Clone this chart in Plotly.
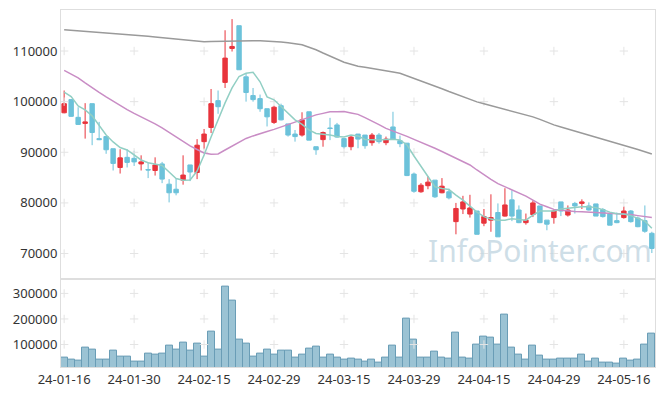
import plotly.graph_objects as go
from plotly.subplots import make_subplots

dates = ["24-01-16", "24-01-17", "24-01-18", "24-01-19", "24-01-22", "24-01-23", "24-01-24", "24-01-25",
         "24-01-26", "24-01-29", "24-01-30", "24-01-31", "24-02-01", "24-02-02", "24-02-05", "24-02-06",
         "24-02-07", "24-02-08", "24-02-13", "24-02-14", "24-02-15", "24-02-16", "24-02-19", "24-02-20",
         "24-02-21", "24-02-22", "24-02-23", "24-02-26", "24-02-27", "24-02-28", "24-02-29", "24-03-04",
         "24-03-05", "24-03-06", "24-03-07", "24-03-08", "24-03-11", "24-03-12", "24-03-13", "24-03-14",
         "24-03-15", "24-03-18", "24-03-19", "24-03-20", "24-03-21", "24-03-22", "24-03-25", "24-03-26",
         "24-03-27", "24-03-28", "24-03-29", "24-04-01", "24-04-02", "24-04-03", "24-04-04", "24-04-05",
         "24-04-08", "24-04-09", "24-04-11", "24-04-12", "24-04-15", "24-04-16", "24-04-17", "24-04-18",
         "24-04-19", "24-04-22", "24-04-23", "24-04-24", "24-04-25", "24-04-26", "24-04-29", "24-04-30",
         "24-05-02", "24-05-03", "24-05-07", "24-05-08", "24-05-09", "24-05-10", "24-05-13", "24-05-14",
         "24-05-16", "24-05-17", "24-05-20", "24-05-21", "24-05-22"]

opens = [97800, 100400, 96900, 95700, 99600, 92700, 93100, 90700, 87000, 89000,
         88800, 87700, 86600, 86400, 87700, 83700, 82700, 84500, 87500, 86000,
         92100, 94900, 100200, 103800, 110500, 115000, 104900, 101200, 100600, 98600,
         95900, 99200, 95600, 93600, 93400, 98000, 91100, 92500, 94800, 95400,
         92700, 91100, 93600, 93400, 91900, 93400, 91900, 95000, 92300, 91800,
         85700, 82200, 83400, 84500, 82000, 82200, 76300, 78800, 77800, 78400,
         76000, 76600, 78100, 77400, 80600, 78600, 76100, 77700, 79400, 76600,
         77100, 80200, 77600, 79900, 79900, 79400, 79800, 78700, 77800, 76500,
         77100, 78400, 77000, 76500, 74000]
highs = [102200, 100400, 98900, 99700, 99600, 96000, 93100, 90700, 90600, 90600,
         90300, 89400, 88000, 89000, 88100, 84700, 84800, 89400, 87500, 92600,
         94600, 102500, 102200, 114100, 116300, 115000, 105500, 102700, 101400, 98600,
         99200, 99600, 95600, 94400, 97900, 98000, 91100, 94100, 96800, 95800,
         92800, 93300, 93600, 93400, 93800, 93800, 93100, 98000, 93300, 91800,
         86000, 83900, 85300, 84500, 84900, 82800, 80000, 81400, 81600, 78400,
         78800, 81700, 79900, 82900, 82500, 79500, 77900, 80500, 79400, 76600,
         78700, 80200, 79500, 80200, 80700, 80100, 79800, 79000, 78100, 78100,
         79300, 78600, 77300, 79500, 74300]
lows = [97700, 97000, 95400, 92700, 91400, 92400, 89700, 86400, 85800, 87000,
        87300, 86400, 84900, 85400, 83900, 80100, 81500, 83600, 84300, 84700,
        90600, 93800, 97600, 102700, 109900, 106300, 100000, 100000, 98000, 95100,
        95600, 96300, 93100, 92100, 93100, 92400, 89500, 91100, 92400, 92900,
        90700, 90400, 90800, 90700, 91300, 91700, 91400, 92500, 91000, 85300,
        82000, 82000, 82700, 81000, 81900, 80700, 73800, 77800, 77100, 73800,
        75400, 74300, 73300, 77300, 76400, 76000, 75700, 77200, 76000, 74600,
        75900, 77400, 77300, 77900, 78800, 78500, 77400, 77100, 75600, 76000,
        76900, 76100, 75200, 74100, 70100]
closes = [99600, 97100, 95500, 96000, 93900, 92500, 90500, 87800, 88900, 88000,
          88100, 88100, 86500, 87500, 84700, 82000, 82000, 85500, 86100, 91400,
          93600, 99600, 99000, 108600, 110900, 106300, 101800, 100400, 98600, 97000,
          98900, 96400, 93400, 93100, 96400, 92400, 90500, 93900, 94700, 93000,
          91100, 93000, 92600, 91300, 93400, 92100, 92600, 92600, 91700, 85400,
          82300, 83500, 84100, 81200, 83300, 81000, 78900, 80200, 79000, 73800,
          77300, 77100, 73300, 79600, 77400, 76100, 76600, 80000, 76100, 75800,
          78400, 78400, 78600, 79400, 80200, 78600, 77400, 77300, 75600, 76100,
          78400, 76300, 75300, 74400, 71000]
volumes = [50200, 42400, 38400, 89400, 81600, 42400, 42400, 76500, 54100, 54100,
           34500, 34500, 65900, 62000, 65900, 97300, 81600, 109000, 77600, 105100,
           54100, 152200, 81600, 328600, 273700, 120800, 105100, 54100, 65900, 81600,
           62000, 76500, 76500, 50200, 62000, 85500, 93300, 50200, 62000, 50200,
           41000, 45000, 41000, 34500, 41000, 29400, 50200, 97300, 50200, 202000,
           119600, 50200, 50200, 73700, 50200, 45000, 147000, 50200, 45000, 100000,
           131400, 128600, 100000, 217600, 89400, 60800, 41000, 97300, 58000, 41000,
           41000, 45000, 45000, 45000, 60800, 34500, 45000, 29400, 29400, 25500,
           45000, 38400, 41000, 100000, 143100]
ma5 = [101900, 101000, 99170, 98380, 97190, 95210, 93430, 92040, 90950, 90460,
       89470, 88480, 87940, 87730, 87390, 86100, 84810, 84460, 84520, 86300,
       89470, 93030, 96400, 99760, 102730, 104970, 105600, 105800, 103920, 100950,
       100360, 98970, 97590, 96400, 95510, 94420, 93720, 93630, 93430, 93130,
       93030, 93430, 93230, 92540, 92440, 92440, 92540, 92580, 92440, 91450,
       89270, 87290, 85310, 83190, 82830, 82640, 81550, 80560, 79370, 78180,
       77290, 76800, 76600, 76600, 76890, 76800, 76600, 77590, 78380, 78380,
       78380, 78780, 78970, 79170, 79230, 79230, 79070, 78680, 78180, 77880,
       77790, 77490, 76990, 76400, 75010]
ma20 = [106160, 105430, 104710, 103720, 102730, 101840, 100950, 100060, 99170, 98430,
        97680, 97040, 96400, 95600, 94810, 93920, 93030, 92140, 91250, 90550,
        89860, 89610, 89670, 90450, 91250, 91990, 92730, 93230, 93720, 94120,
        94520, 95010, 95510, 96000, 96500, 96940, 97390, 97680, 97980, 98010,
        98040, 97760, 97490, 96840, 96200, 95460, 94710, 94240, 93760, 93150,
        92540, 91990, 91450, 90800, 90160, 89520, 88870, 88180, 87490, 86500,
        85510, 84670, 83820, 83230, 82640, 81990, 81350, 80560, 79770, 79240,
        78720, 78550, 78380, 78310, 78240, 78160, 78080, 78030, 77980, 77930,
        77880, 77690, 77490, 77310, 77130]
ma120 = [114220, 114120, 114020, 113920, 113820, 113720, 113620, 113520, 113430, 113330,
         113230, 113080, 112930, 112780, 112630, 112480, 112340, 112190, 112040, 111940,
         111840, 111890, 111940, 111990, 112040, 112040, 112040, 112040, 112040, 111990,
         111940, 111790, 111640, 111450, 111250, 110750, 110260, 109610, 108970, 108380,
         107780, 107390, 106990, 106790, 106590, 106350, 106100, 105850, 105600, 105110,
         104610, 104070, 103530, 103030, 102540, 101990, 101450, 100900, 100360, 99960,
         99570, 99220, 98870, 98530, 98180, 97830, 97490, 96990, 96500, 95950,
         95410, 95010, 94620, 94220, 93820, 93430, 93030, 92630, 92240, 91840,
         91450, 91000, 90560, 90110, 89670]

price_ticks = [70000, 80000, 90000, 100000, 110000]
volume_ticks = [100000, 200000, 300000]
x_tick_labels = dates[::10]
watermark = "InfoPointer.com"

fig = make_subplots(rows=2, cols=1, shared_xaxes=True, vertical_spacing=0,
                    row_heights=[0.7524, 0.2476])

grid_color = "#e4e4e4"
# cross-shaped grid marks at tick intersections
cx, cy = [], []
for d in x_tick_labels:
    for t in price_ticks:
        cx.append(d)
        cy.append(t)
fig.add_trace(go.Scatter(x=cx, y=cy, mode="markers", hoverinfo="skip",
                         marker=dict(symbol="cross-thin", size=6,
                                     line=dict(color=grid_color, width=1))),
              row=1, col=1)
vx, vy = [], []
for d in x_tick_labels:
    for t in volume_ticks:
        vx.append(d)
        vy.append(t)
fig.add_trace(go.Scatter(x=vx, y=vy, mode="markers", hoverinfo="skip",
                         marker=dict(symbol="cross-thin", size=6,
                                     line=dict(color=grid_color, width=1))),
              row=2, col=1)

fig.add_trace(go.Scatter(x=dates, y=ma120, mode="lines",
                         line=dict(color="#9a9a9a", width=1.5)), row=1, col=1)
fig.add_trace(go.Scatter(x=dates, y=ma20, mode="lines",
                         line=dict(color="#c98dc5", width=1.5)), row=1, col=1)
fig.add_trace(go.Scatter(x=dates, y=ma5, mode="lines",
                         line=dict(color="#92cfc4", width=1.5)), row=1, col=1)

fig.add_trace(go.Candlestick(x=dates, open=opens, high=highs, low=lows, close=closes,
                             increasing=dict(line=dict(color="#e8343c", width=1),
                                             fillcolor="#e8343c"),
                             decreasing=dict(line=dict(color="#6cc2da", width=1),
                                             fillcolor="#6cc2da"),
                             whiskerwidth=0),
              row=1, col=1)

fig.add_trace(go.Bar(x=dates, y=volumes,
                     marker=dict(color="rgba(138,184,204,0.85)",
                                 line=dict(color="#6a9db6", width=1))),
              row=2, col=1)

fig.add_annotation(text=watermark, xref="paper", yref="paper", x=0.998, y=0.262,
                   xanchor="right", yanchor="bottom", showarrow=False,
                   font=dict(family="Noto Sans", size=30, color="rgba(190,212,224,0.75)"))

axis_font = dict(family="Noto Sans", size=13, color="#333333")
fig.update_xaxes(type="category", categoryorder="array", categoryarray=dates,
                 range=[-0.45, 84.45], showgrid=False, zeroline=False,
                 showline=True, linecolor="#dedede", linewidth=1, mirror=True,
                 rangeslider=dict(visible=False), ticks="",
                 tickmode="array", tickvals=x_tick_labels, ticktext=x_tick_labels,
                 tickangle=0, tickfont=axis_font)
fig.update_xaxes(showticklabels=False, row=1, col=1)
fig.update_yaxes(range=[65050, 118100], tickvals=price_ticks, tickformat="d",
                 showgrid=False, zeroline=False, showline=True, linecolor="#dedede",
                 mirror=True, ticks="", tickfont=axis_font, row=1, col=1)
fig.update_yaxes(range=[12000, 358000], tickvals=volume_ticks, tickformat="d",
                 showgrid=False, zeroline=False, showline=True, linecolor="#dedede",
                 mirror=True, ticks="", tickfont=axis_font, row=2, col=1)

# page body has an 8px default margin, so the figure is sized to fit the window
fig.update_layout(width=657, height=388, margin=dict(l=53, r=10, t=2, b=29),
                  plot_bgcolor="white", paper_bgcolor="white", showlegend=False,
                  bargap=0, boxgap=0.1, hovermode=False)

fig.write_html("out.html")
